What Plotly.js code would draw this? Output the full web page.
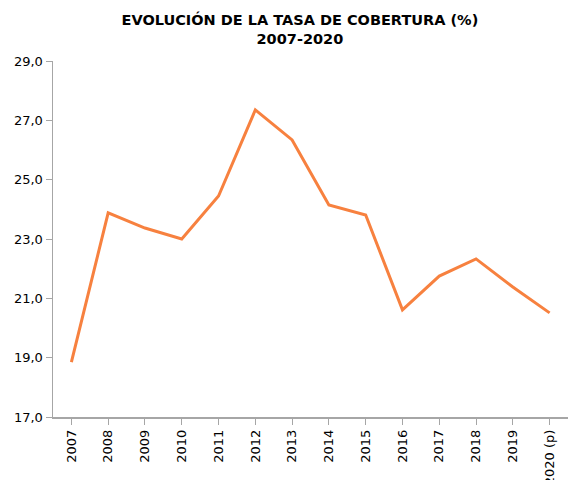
<!DOCTYPE html>
<html><head><meta charset="utf-8">
<script src="https://cdn.plot.ly/plotly-3.0.1.min.js"></script>
<style>html,body{margin:0;padding:0;background:#fff}#c{width:568px;height:480px}</style>
</head><body><div id="c"></div>
<script>
const years = ["2007","2008","2009","2010","2011","2012","2013","2014","2015","2016","2017","2018","2019","2020 (p)"];
const tasa = [18.85, 23.88, 23.37, 23.0, 24.45, 27.35, 26.34, 24.15, 23.81, 20.61, 21.75, 22.33, 21.38, 20.51];
const yTicks = [17, 19, 21, 23, 25, 27, 29];
const yTickText = ["17,0","19,0","21,0","23,0","25,0","27,0","29,0"];

Plotly.newPlot('c', [{
  type: 'scatter', mode: 'lines', x: years, y: tasa,
  line: {color: '#f7813f', width: 3}, hoverinfo: 'skip'
}], {
  width: 568, height: 480,
  margin: {l: 53, r: 0, t: 61, b: 63},
  paper_bgcolor: '#fff', plot_bgcolor: '#fff',
  font: {family: 'DejaVu Sans, Verdana, sans-serif', size: 13, color: '#000'},
  title: {text: '<b>EVOLUCIÓN DE LA TASA DE COBERTURA (%)<br>2007-2020</b>',
    x: 0.528, xref: 'container', xanchor: 'center', y: 0.947, yref: 'container', yanchor: 'middle',
    font: {family: 'DejaVu Sans, Verdana, sans-serif', size: 14.5, color: '#000'}},
  xaxis: {type: 'category', range: [-0.5, 13.5], showgrid: false, zeroline: false,
    showline: true, linecolor: '#a6a6a6', linewidth: 1.5, ticks: 'outside', ticklen: 6,
    tickcolor: '#a6a6a6', tickangle: -90, automargin: false, fixedrange: true},
  yaxis: {range: [17, 29], tickvals: yTicks, ticktext: yTickText, showgrid: false, zeroline: false,
    showline: true, linecolor: '#a6a6a6', linewidth: 1.5, ticks: 'outside', ticklen: 6,
    tickcolor: '#a6a6a6', automargin: false, fixedrange: true},
  showlegend: false
}, {staticPlot: true});
</script></body></html>
